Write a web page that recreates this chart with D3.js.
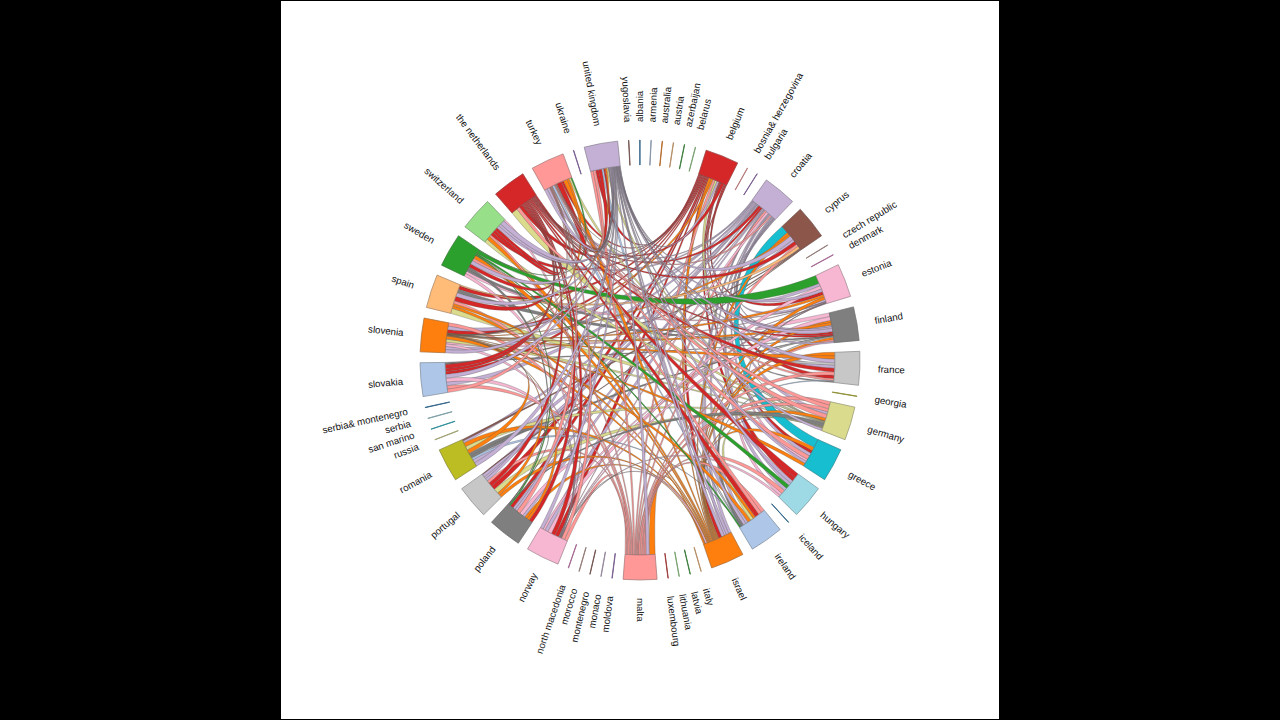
<!DOCTYPE html>
<html><head><meta charset="utf-8">
<style>html,body{margin:0;background:#000;overflow:hidden}svg{display:block}</style>
<script src="https://cdn.jsdelivr.net/npm/d3@7"></script></head><body>
<svg id="c" width="1280" height="720"></svg>
<script>
const nodeKeys=["al","am","au","at","az","by","be","ba","bg","cr","cy","cz","dk","ee","fi","fr","ge","de","gr","hu","is","ie","il","it","lv","lt","lu","mt","md","mc","me","ma","mk","no","pl","pt","ro","ru","sm","rs","cs","sk","si","es","se","ch","nl","tr","ua","uk","yu"];
const nodeLabels=["albania","armenia","australia","austria","azerbaijan","belarus","belgium","bosnia& herzegovina","bulgaria","croatia","cyprus","czech republic","denmark","estonia","finland","france","georgia","germany","greece","hungary","iceland","ireland","israel","italy","latvia","lithuania","luxembourg","malta","moldova","monaco","montenegro","morocco","north macedonia","norway","poland","portugal","romania","russia","san marino","serbia","serbia& montenegro","slovakia","slovenia","spain","sweden","switzerland","the netherlands","turkey","ukraine","united kingdom","yugoslavia"];
const nodeValues=[1,1,1,1,1,1,100,1,1,100,100,1,1,100,100,100,1,100,100,100,1,100,100,1,1,1,1,100,1,1,1,1,1,100,100,100,100,1,1,1,1,100,100,100,100,100,100,100,1,100,1];
const nodeColors=["#1f77b4","#aec7e8","#ff7f0e","#ffbb78","#2ca02c","#98df8a","#d62728","#ff9896","#9467bd","#c5b0d5","#8c564b","#c49c94","#e377c2","#f7b6d2","#7f7f7f","#c7c7c7","#bcbd22","#dbdb8d","#17becf","#9edae5","#1f77b4","#aec7e8","#ff7f0e","#ffbb78","#2ca02c","#98df8a","#d62728","#ff9896","#9467bd","#c5b0d5","#8c564b","#c49c94","#e377c2","#f7b6d2","#7f7f7f","#c7c7c7","#bcbd22","#dbdb8d","#17becf","#9edae5","#1f77b4","#aec7e8","#ff7f0e","#ffbb78","#2ca02c","#98df8a","#d62728","#ff9896","#9467bd","#c5b0d5","#8c564b"];
// Segments of each sector, clockwise: [sending country, width]. Own key = block of the outgoing links.
const be=[["be",3],["il",.7],["si",.5],["mt",.6],["de",.6],["uk",.5],["be",.7],["nl",.8],["be",.8]];
const cr=[["cr",2.5],["nl",.7],["be",.5],["cr",1],["mt",.6],["no",.6],["cr",.8],["tr",.4],["cr",1.5]];
const cy=[["gr",1.9],["il",.6],["si",.5],["uk",1],["cr",.6],["nl",.8],["mt",.6],["es",.6],["cy",.5]];
const ee=[["se",2.2],["cr",.7],["no",.9],["uk",.7],["be",.8],["si",.6],["il",.7],["cr",.6],["ee",.6]];
const fi=[["ee",1.1],["no",1.1],["il",.7],["si",.7],["cr",.5],["uk",.5],["uk",.9],["be",.6],["nl",.5],["fi",.3],["fr",.3],["il",.7],["mt",.5],["uk",.4]];
const fr=[["il",1],["si",.9],["uk",1],["fr",.6],["cr",.9],["nl",1],["mt",.9],["be",1],["tr",.5],["ie",.2],["fi",.3]];
const de=[["mt",.9],["tr",.9],["mt",.8],["cr",.7],["tr",1],["il",.7],["de",.6],["pl",.9],["de",.5],["uk",.6]];
const gr=[["gr",2.3],["il",.9],["be",.8],["cr",.8],["tr",1],["ee",.6],["uk",.6],["si",.8]];
const hu=[["nl",1.2],["be",1],["uk",.7],["cr",.7],["se",.9],["cr",.8],["mt",.9],["ee",.7],["no",.5]];
const ie=[["mt",.8],["tr",.7],["nl",1],["il",.6],["de",.7],["si",.7],["cr",.6],["uk",.6],["fi",.6],["ie",.2],["se",.3]];
const il=[["cr",.8],["uk",.7],["cr",.7],["uk",.8],["be",1],["il",1.5],["il",1.2],["il",1],["no",.4],["il",.7]];
const mt=[["il",1.7],["uk",.9],["mt",6.2]];
const no=[["mt",.8],["tr",.8],["no",.8],["be",1],["nl",1],["ee",1],["cr",.9],["ee",.5],["uk",.8]];
const pl=[["nl",.9],["si",.7],["il",.7],["cr",.7],["no",.9],["tr",1],["uk",.6],["cr",.6],["be",.9],["se",.3],["pl",.4]];
const pt=[["il",.8],["si",.7],["de",1.3],["be",1.2],["nl",1],["mt",.8],["uk",.7],["cr",.6],["cr",.8],["cy",.2]];
const ro=[["uk",1],["cr",.9],["ie",.5],["fi",.7],["pl",.7],["si",1],["de",1],["il",1],["cr",.6],["cy",.4]];
const sk=[["tr",.9],["mt",.9],["cr",1],["no",1],["uk",1],["be",.8],["nl",.8],["nl",1],["cy",.3],["fi",.3]];
const si=[["uk",.8],["cr",.8],["no",.6],["ee",.5],["de",.7],["il",.8],["si",.7],["be",.9],["cr",.9],["mt",.8]];
const es=[["de",1.4],["il",.7],["si",.6],["mt",.8],["nl",1.2],["uk",1],["fi",1],["be",1],["es",.3]];
const se=[["no",.8],["ee",.7],["fi",.7],["pl",.6],["nl",1],["uk",1],["tr",.7],["il",1],["se",1.8]];
const ch=[["de",1],["il",1],["mt",.5],["be",.9],["nl",.9],["nl",.8],["cr",.8],["uk",.7],["uk",1.2],["no",.5]];
const nl=[["de",1.8],["tr",.9],["be",1],["nl",5]];
const tr=[["uk",.7],["cr",.7],["tr",.8],["ie",.6],["tr",.7],["nl",1.3],["be",.6],["il",1],["si",.5],["de",.5],["se",.3]];
const uk=[["mt",.8],["tr",.7],["be",.9],["nl",.9],["ie",.6],["nl",.4],["si",.5],["de",.5],["uk",3.5]];
const stacks={be,cr,cy,ee,fi,fr,de,gr,hu,ie,il,mt,no,pl,pt,ro,sk,si,es,se,ch,nl,tr,uk};

const cx=640,cy0=360,R=220,r0=195,rl=238,pull=.52,parallel=.65,gapValue=32,thinLine=1.4;
const svg=d3.select("#c");
svg.append("rect").attr("x",281).attr("y",1).attr("width",718).attr("height",718).attr("fill","#fff");
const g=svg.append("g").attr("transform",`translate(${cx},${cy0})`);

const total=d3.sum(nodeValues)+gapValue*nodeValues.length;
const ang=d3.scaleLinear().domain([0,total]).range([-.0012,2*Math.PI-.0012]);
let cum=0;
const nodes=nodeKeys.map((k,i)=>{const s=ang(cum);cum+=nodeValues[i];const e=ang(cum);cum+=gapValue;
  return {key:k,i,label:nodeLabels[i],color:nodeColors[i],start:s,end:e,mid:(s+e)/2,value:nodeValues[i]};});
const byKey=new Map(nodes.map(n=>[n.key,n]));

const links=[];const chunks=new Map();
nodes.forEach(n=>{const st=stacks[n.key];if(!st)return;
  const sum=d3.sum(st,d=>d[1]);
  const sc=d3.scaleLinear().domain([0,sum]).range([n.start,n.end]);
  let c=0;
  st.forEach(([k,w])=>{const a0=sc(c);c+=w;const a1=sc(c);
    if(k===n.key){if(!chunks.has(k))chunks.set(k,[]);chunks.get(k).push({a0,a1,w});}
    else links.push({source:byKey.get(k),target:n,t0:a0,t1:a1,w});
  });
});
const circDelta=(a,b)=>((a-b)%(2*Math.PI)+2*Math.PI)%(2*Math.PI);
d3.group(links,d=>d.source.key).forEach((ls,k)=>{
  const n=byKey.get(k);const ch_=chunks.get(k)||[{a0:n.start,a1:n.end,w:1}];
  const list=ls.slice().sort((x,y)=>circDelta(n.mid,x.target.mid)-circDelta(n.mid,y.target.mid));
  const T=d3.sum(list,d=>d.w),CW=d3.sum(ch_,d=>d.w);
  let idx=0;
  ch_.forEach((c,ci)=>{
    const target=T*c.w/CW;const grp=[];let acc=0;
    while(idx<list.length&&(ci===ch_.length-1||grp.length===0||acc+list[idx].w/2<=target)){grp.push(list[idx]);acc+=list[idx].w;idx++;}
    if(!grp.length)return;
    const s=d3.scaleLinear().domain([0,d3.sum(grp,d=>d.w)]).range([c.a0,c.a1]);
    let p=0;grp.forEach(l=>{l.s0=s(p);p+=l.w;l.s1=s(p);});
  });
});

function ribbonPath(l){
  const P=d3.path(),o=-Math.PI/2,L=pull*r0;
  const pt=a=>[r0*Math.cos(a+o),r0*Math.sin(a+o)];
  const ctrl=(a,m)=>{const p=pt(a),ux=Math.cos(m+o),uy=Math.sin(m+o),rx=Math.cos(a+o),ry=Math.sin(a+o);
    return [p[0]-L*((1-parallel)*rx+parallel*ux),p[1]-L*((1-parallel)*ry+parallel*uy)];};
  const sm=l.source.mid,tm=l.target.mid;
  const p0=pt(l.s0),p2=pt(l.t0);
  const a=ctrl(l.s1,sm),b=ctrl(l.t0,tm),c=ctrl(l.t1,tm),d=ctrl(l.s0,sm);
  P.moveTo(p0[0],p0[1]);
  P.arc(0,0,r0,l.s0+o,l.s1+o);
  P.bezierCurveTo(a[0],a[1],b[0],b[1],p2[0],p2[1]);
  P.arc(0,0,r0,l.t0+o,l.t1+o);
  P.bezierCurveTo(c[0],c[1],d[0],d[1],p0[0],p0[1]);P.closePath();
  return P.toString();
}
links.sort((a,b)=>a.source.i-b.source.i);
g.append("g").selectAll("path").data(links.filter(l=>l.s0!==undefined)).join("path")
  .attr("d",ribbonPath).attr("fill",d=>d.source.color)
  .attr("stroke","#555").attr("stroke-opacity",.55).attr("stroke-width",.6);

const arc=d3.arc().innerRadius(r0).outerRadius(R).startAngle(d=>d.start).endAngle(d=>d.end);
g.append("g").selectAll("path").data(nodes).join("path").attr("d",arc)
  .attr("fill",d=>d.color)
  .attr("stroke",d=>d3.interpolateRgb(d.color,"#555")(d.value<=thinLine?.45:.55))
  .attr("stroke-width",d=>d.value<=thinLine?.9:.7);

g.append("g").selectAll("text").data(nodes).join("text")
  .attr("transform",d=>{const deg=d.mid*180/Math.PI;
    return deg<=180?`rotate(${deg-90}) translate(${rl},0)`:`rotate(${deg+90}) translate(${-rl},0)`;})
  .attr("text-anchor",d=>d.mid*180/Math.PI<=180?"start":"end")
  .attr("dy","0.35em").attr("font-family","Liberation Sans, Arial, sans-serif").attr("font-size",9.7).attr("fill","#111")
  .text(d=>d.label);
</script></body></html>
